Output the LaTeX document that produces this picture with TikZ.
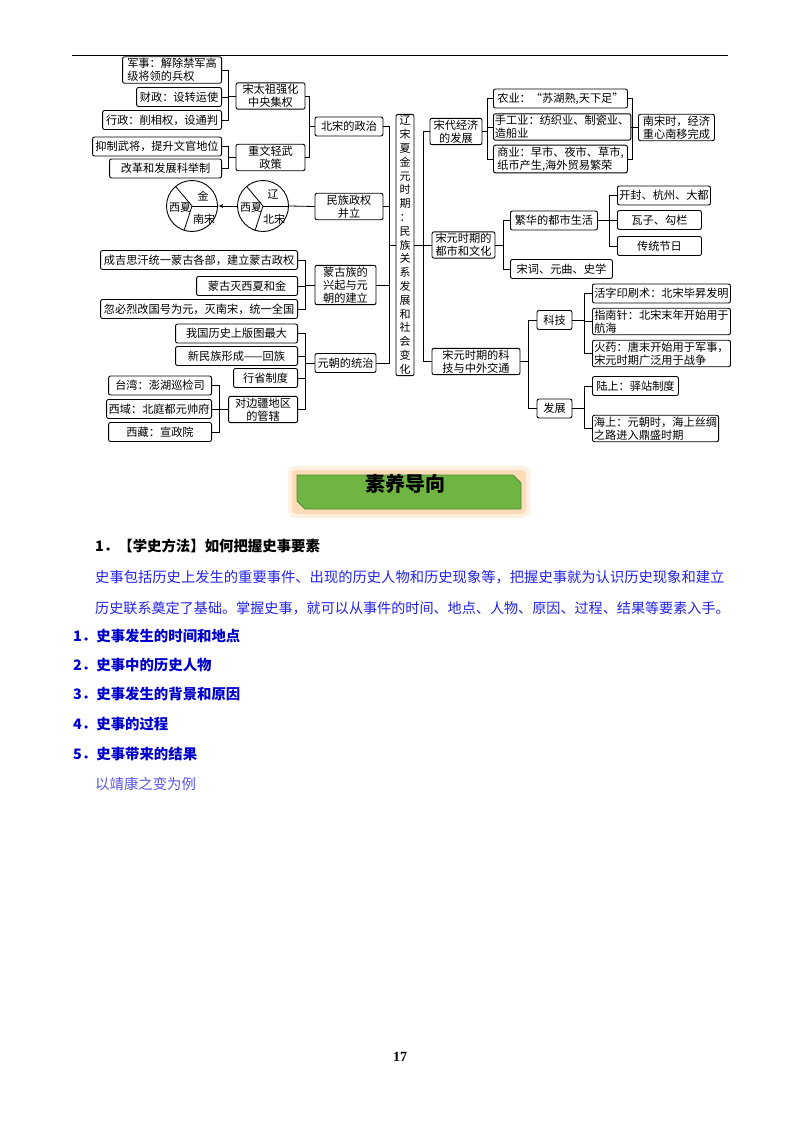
\documentclass[tikz,border=0pt]{standalone}
\usepackage{fontspec}
\setmainfont{Noto Sans CJK SC}
\newfontfamily\pagenumfont{Liberation Serif}
\usepackage{tikz}
\usetikzlibrary{arrows}

\definecolor{bannergreen}{RGB}{112,180,68}
\definecolor{bannerline}{RGB}{80,140,45}
\definecolor{paraBlue}{RGB}{35,35,235}
\definecolor{listBlue}{RGB}{0,0,205}
\definecolor{noteBlue}{RGB}{85,85,235}

\begin{document}
\begin{tikzpicture}[
    x=1pt, y=-1pt,
    mbox/.style={rectangle, draw, rounded corners=2pt, line width=0.9pt, inner xsep=1.5pt, inner ysep=1.5pt, minimum height=19pt, align=center, font=\fontsize{11.2}{13}\selectfont},
    lbox/.style={mbox, align=left},
    pie/.style={circle, draw, line width=0.9pt, minimum size=51pt, inner sep=0pt},
    pielabel/.style={inner sep=0pt, font=\fontsize{11}{13}\selectfont},
    txt/.style={anchor=west, inner sep=0pt, font=\fontsize{14.4}{14.4}\selectfont},
    link/.style={draw, line width=0.8pt},
    arrowline/.style={draw, -latex', line width=0.8pt}
]
    \useasboundingbox (0,0) rectangle (800,1132);
    \fill[white] (0,0) rectangle (800,1132);
    \draw[line width=1pt] (72,56) -- (728,56);

    % Centre node
    \node [mbox, minimum width=18pt, inner xsep=1pt, font=\fontsize{11}{13.8}\selectfont] (center) at (405,245) {辽\\宋\\夏\\金\\元\\时\\期\\：\\民\\族\\关\\系\\发\\展\\和\\社\\会\\变\\化};

    % Left branch: 北宋的政治
    \node [lbox, anchor=east, minimum width=99pt] (junshi) at (222,70) {军事：解除禁军高\\级将领的兵权};
    \node [mbox, anchor=east, minimum width=85pt] (caizheng) at (222,97) {财政：设转运使};
    \node [mbox, anchor=east, minimum width=119pt] (xingzheng) at (222,120) {行政：削相权，设通判};
    \node [mbox, anchor=east, minimum width=129pt] (yizhi) at (222,146.5) {抑制武将，提升文官地位};
    \node [mbox, anchor=east, minimum width=112pt] (keju) at (222,168.5) {改革和发展科举制};
    \node [mbox, minimum width=69pt] (taizu) at (270.5,96) {宋太祖强化\\中央集权};
    \node [mbox, minimum width=69pt] (zhongwen) at (270.5,157.5) {重文轻武\\政策};
    \node [mbox, minimum width=68pt] (beisong) at (349,126.5) {北宋的政治};

    % Left branch: 民族政权并立
    \node [mbox, minimum width=68pt] (minzu) at (349,206.5) {民族政权\\并立};
    \node [pie] (liaoC) at (263,206) {};
    \node [pie] (jinC) at (192,206) {};
    \node [pielabel] (liaoL) at (273,194) {辽};
    \node [pielabel] (xixiaB) at (251,208) {西夏};
    \node [pielabel] (beisongL) at (274,219) {北宋};
    \node [pielabel] (jinL) at (203,196) {金};
    \node [pielabel] (xixiaA) at (180,208) {西夏};
    \node [pielabel] (nansongL) at (204,219) {南宋};

    % Left branch: 蒙古族的兴起与元朝的建立
    \node [mbox, anchor=east, minimum width=197pt] (meng1) at (298,260) {成吉思汗统一蒙古各部，建立蒙古政权};
    \node [mbox, anchor=east, minimum width=101pt] (meng2) at (298,286) {蒙古灭西夏和金};
    \node [mbox, anchor=east, minimum width=197pt] (meng3) at (298,309) {忽必烈改国号为元，灭南宋，统一全国};
    \node [mbox, minimum width=61pt] (mengu) at (345.5,285) {蒙古族的\\兴起与元\\朝的建立};

    % Left branch: 元朝的统治
    \node [mbox, anchor=east, minimum width=122pt] (yuan1) at (298,333.5) {我国历史上版图最大};
    \node [mbox, anchor=east, minimum width=122pt] (yuan2) at (298,356) {新民族形成——回族};
    \node [mbox, anchor=east, minimum width=64pt] (yuan3) at (298,378) {行省制度};
    \node [mbox, anchor=east, minimum width=69pt] (yuan4) at (298,409.5) {对边疆地区\\的管辖};
    \node [mbox, minimum width=61pt] (yuantong) at (345.5,363) {元朝的统治};
    \node [mbox, anchor=east, minimum width=103pt] (taiwan) at (212,385.5) {台湾：澎湖巡检司};
    \node [mbox, anchor=east, minimum width=105pt] (xiyu) at (212,409) {西域：北庭都元帅府};
    \node [mbox, anchor=east, minimum width=103pt] (xizang) at (212,432) {西藏：宣政院};

    % Right branch: 宋代经济的发展
    \node [mbox, minimum width=52pt] (jingji) at (456,131.5) {宋代经济\\的发展};
    \node [lbox, anchor=west, minimum width=134pt] (nong) at (493,98.5) {农业：“苏湖熟,天下足”};
    \node [lbox, anchor=west, minimum width=134pt] (shougong) at (493,127) {手工业：纺织业、制瓷业、\\造船业};
    \node [lbox, anchor=west, minimum width=134pt] (shangye) at (493,159) {商业：早市、夜市、草市,\\纸币产生,海外贸易繁荣};
    \node [mbox, anchor=west, minimum width=76pt] (nansong) at (638,127.5) {南宋时，经济\\重心南移完成};

    % Right branch: 宋元时期的都市和文化
    \node [mbox, minimum width=63pt] (dushi) at (463.5,245) {宋元时期的\\都市和文化};
    \node [mbox, anchor=west, minimum width=87pt] (fanhua) at (510,220.5) {繁华的都市生活};
    \node [mbox, anchor=west, minimum width=102pt] (songci) at (510,269) {宋词、元曲、史学};
    \node [mbox, anchor=west, minimum width=93pt] (kaifeng) at (617,195.5) {开封、杭州、大都};
    \node [mbox, anchor=west, minimum width=84pt] (wazi) at (617,220) {瓦子、勾栏};
    \node [mbox, anchor=west, minimum width=84pt] (jieri) at (617,246) {传统节日};

    % Right branch: 宋元时期的科技与中外交通
    \node [mbox, minimum width=88pt] (kjjt) at (476,361.5) {宋元时期的科\\技与中外交通};
    \node [mbox, minimum width=35pt] (keji) at (554.5,320) {科技};
    \node [mbox, minimum width=35pt] (fazhan) at (554.5,408.5) {发展};
    \node [lbox, anchor=west, minimum width=138pt] (huozi) at (592,293.5) {活字印刷术：北宋毕昇发明};
    \node [lbox, anchor=west, minimum width=138pt] (zhinan) at (592,321.5) {指南针：北宋末年开始用于\\航海};
    \node [lbox, anchor=west, minimum width=138pt] (huoyao) at (592,353.5) {火药：唐末开始用于军事，\\宋元时期广泛用于战争};
    \node [lbox, anchor=west, minimum width=86pt] (lushang) at (592,386) {陆上：驿站制度};
    \node [lbox, anchor=west, minimum width=126pt] (haishang) at (592,428.5) {海上：元朝时，海上丝绸\\之路进入鼎盛时期};

    % Connecting lines, left side
    \path [link] (taizu.west) -- ++(-7,0) coordinate (jTaizu);
    \path [link] (junshi.east) -| (jTaizu);
    \path [link] (caizheng.east) -| (jTaizu);
    \path [link] (xingzheng.east) -| (jTaizu);
    \path [link] (zhongwen.west) -- ++(-7,0) coordinate (jZhongwen);
    \path [link] (yizhi.east) -| (jZhongwen);
    \path [link] (keju.east) -| (jZhongwen);
    \path [link] (beisong.west) -- ++(-5,0) coordinate (jBeisong);
    \path [link] (taizu.east) -| (jBeisong);
    \path [link] (zhongwen.east) -| (jBeisong);
    \path [link] (minzu.west) -- (liaoC.east);
    \path [link] (liaoC.center) -- (liaoC.130);
    \path [link] (liaoC.center) -- (liaoC.0);
    \path [link] (liaoC.center) -- (liaoC.252);
    \path [link] (jinC.center) -- (jinC.130);
    \path [link] (jinC.center) -- (jinC.0);
    \path [link] (jinC.center) -- (jinC.252);
    \path [arrowline] (liaoC.west) -- (jinC.east);
    \path [link] (mengu.west) -- ++(-9,0) coordinate (jMengu);
    \path [link] (meng1.east) -| (jMengu);
    \path [link] (meng2.east) -| (jMengu);
    \path [link] (meng3.east) -| (jMengu);
    \path [link] (yuantong.west) -- ++(-9,0) coordinate (jYuan);
    \path [link] (yuan1.east) -| (jYuan);
    \path [link] (yuan2.east) -| (jYuan);
    \path [link] (yuan3.east) -| (jYuan);
    \path [link] (yuan4.east) -| (jYuan);
    \path [link] (yuan4.west) -- ++(-9,0) coordinate (jBianjiang);
    \path [link] (taiwan.east) -| (jBianjiang);
    \path [link] (xiyu.east) -| (jBianjiang);
    \path [link] (xizang.east) -| (jBianjiang);
    \path [link] (center.west) -- ++(-6,0) coordinate (jLeft);
    \path [link] (beisong.east) -| (jLeft);
    \path [link] (minzu.east) -| (jLeft);
    \path [link] (mengu.east) -| (jLeft);
    \path [link] (yuantong.east) -| (jLeft);

    % Connecting lines, right side
    \path [link] (center.east) -- ++(9,0) coordinate (jRight);
    \path [link] (jingji.west) -| (jRight);
    \path [link] (dushi.west) -| (jRight);
    \path [link] (kjjt.west) -| (jRight);
    \path [link] (jingji.east) -- ++(5,0) coordinate (jJingji);
    \path [link] (nong.west) -| (jJingji);
    \path [link] (shougong.west) -| (jJingji);
    \path [link] (shangye.west) -| (jJingji);
    \path [link] (nansong.west) -- ++(-6,0) coordinate (jNansong);
    \path [link] (nong.east) -| (jNansong);
    \path [link] (shougong.east) -| (jNansong);
    \path [link] (shangye.east) -| (jNansong);
    \path [link] (dushi.east) -- ++(8,0) coordinate (jDushi);
    \path [link] (fanhua.west) -| (jDushi);
    \path [link] (songci.west) -| (jDushi);
    \path [link] (fanhua.east) -- ++(11,0) coordinate (jFanhua);
    \path [link] (kaifeng.west) -| (jFanhua);
    \path [link] (wazi.west) -| (jFanhua);
    \path [link] (jieri.west) -| (jFanhua);
    \path [link] (kjjt.east) -- ++(8,0) coordinate (jKjjt);
    \path [link] (keji.west) -| (jKjjt);
    \path [link] (fazhan.west) -| (jKjjt);
    \path [link] (keji.east) -- ++(12,0) coordinate (jKeji);
    \path [link] (huozi.west) -| (jKeji);
    \path [link] (zhinan.west) -| (jKeji);
    \path [link] (huoyao.west) -| (jKeji);
    \path [link] (fazhan.east) -- ++(12,0) coordinate (jFazhan);
    \path [link] (lushang.west) -| (jFazhan);
    \path [link] (haishang.west) -| (jFazhan);

    % Banner
    \fill [orange!12, rounded corners=8pt] (288,466) rectangle (530,518);
    \fill [orange!28, rounded corners=5pt] (292,470) rectangle (526,514);
    \draw [bannerline, fill=bannergreen, line width=0.8pt] (297,475) -- (513,475) -- (521,483) -- (521,509) -- (305,509) -- (297,501) -- cycle;
    \node [inner sep=0pt, font=\fontsize{20}{20}\selectfont\bfseries] (banner) at (405,484) {素养导向};

    % Text below
    \node [txt, font=\fontsize{14.4}{14.4}\selectfont\bfseries] (method) at (95,546) {1．【学史方法】如何把握史事要素};
    \node [txt, text=paraBlue, font=\fontsize{14.3}{14.3}\selectfont] (para1) at (95,577) {史事包括历史上发生的重要事件、出现的历史人物和历史现象等，把握史事就为认识历史现象和建立};
    \node [txt, text=paraBlue, font=\fontsize{14.1}{14.1}\selectfont] (para2) at (95,608) {历史联系奠定了基础。掌握史事，就可以从事件的时间、地点、人物、原因、过程、结果等要素入手。};
    \node [txt, text=listBlue, font=\fontsize{14.4}{14.4}\selectfont\bfseries] (item1) at (73,636) {1．史事发生的时间和地点};
    \node [txt, text=listBlue, font=\fontsize{14.4}{14.4}\selectfont\bfseries] (item2) at (73,665) {2．史事中的历史人物};
    \node [txt, text=listBlue, font=\fontsize{14.4}{14.4}\selectfont\bfseries] (item3) at (73,694) {3．史事发生的背景和原因};
    \node [txt, text=listBlue, font=\fontsize{14.4}{14.4}\selectfont\bfseries] (item4) at (73,724) {4．史事的过程};
    \node [txt, text=listBlue, font=\fontsize{14.4}{14.4}\selectfont\bfseries] (item5) at (73,754) {5．史事带来的结果};
    \node [txt, text=noteBlue] (example) at (95,784) {以靖康之变为例};
    \node [inner sep=0pt, font=\pagenumfont\bfseries\fontsize{14}{14}\selectfont] (pagenum) at (400,1057) {17};
\end{tikzpicture}
\end{document}
